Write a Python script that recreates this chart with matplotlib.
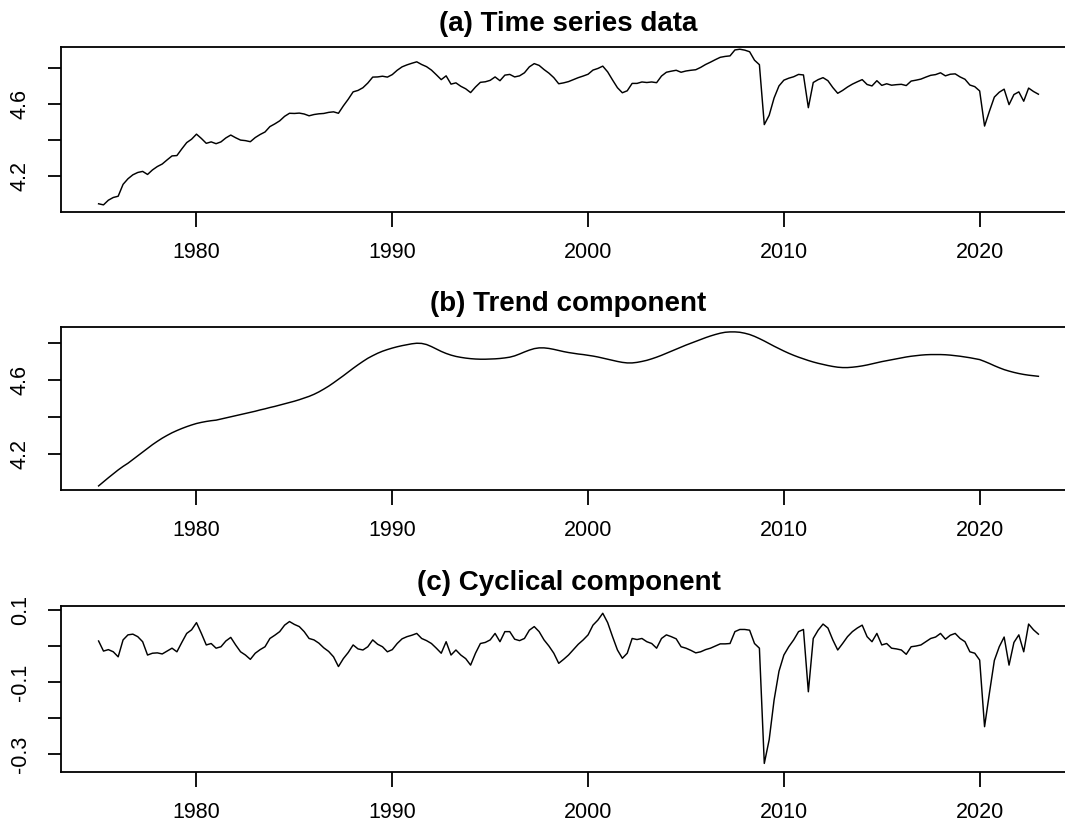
import matplotlib
matplotlib.use("Agg")
import matplotlib.pyplot as plt
import numpy as np

# ---------------- data (quarterly) ----------------
start_year = 1975
freq = 4

trend = [
    4.030, 4.052, 4.074, 4.095,   # 1975
    4.116, 4.135, 4.152, 4.172,   # 1976
    4.192, 4.212, 4.232, 4.252,   # 1977
    4.270, 4.287, 4.302, 4.316,   # 1978
    4.328, 4.339, 4.349, 4.358,   # 1979
    4.366, 4.372, 4.377, 4.381,   # 1980
    4.384, 4.390, 4.396, 4.402,   # 1981
    4.408, 4.414, 4.420, 4.426,   # 1982
    4.432, 4.439, 4.445, 4.452,   # 1983
    4.458, 4.465, 4.472, 4.479,   # 1984
    4.486, 4.494, 4.503, 4.512,   # 1985
    4.523, 4.536, 4.551, 4.567,   # 1986
    4.585, 4.604, 4.623, 4.643,   # 1987
    4.663, 4.682, 4.700, 4.717,   # 1988
    4.731, 4.744, 4.755, 4.764,   # 1989
    4.772, 4.779, 4.785, 4.790,   # 1990
    4.795, 4.798, 4.797, 4.791,   # 1991
    4.780, 4.767, 4.754, 4.743,   # 1992
    4.734, 4.727, 4.722, 4.718,   # 1993
    4.715, 4.713, 4.712, 4.712,   # 1994
    4.713, 4.714, 4.716, 4.719,   # 1995
    4.723, 4.730, 4.740, 4.751,   # 1996
    4.761, 4.769, 4.773, 4.773,   # 1997
    4.770, 4.765, 4.759, 4.753,   # 1998
    4.748, 4.744, 4.740, 4.737,   # 1999
    4.733, 4.729, 4.724, 4.718,   # 2000
    4.712, 4.706, 4.700, 4.695,   # 2001
    4.692, 4.692, 4.695, 4.700,   # 2002
    4.706, 4.714, 4.723, 4.733,   # 2003
    4.744, 4.755, 4.766, 4.777,   # 2004
    4.788, 4.798, 4.808, 4.818,   # 2005
    4.828, 4.837, 4.845, 4.852,   # 2006
    4.857, 4.859, 4.859, 4.857,   # 2007
    4.852, 4.845, 4.835, 4.823,   # 2008
    4.810, 4.796, 4.782, 4.769,   # 2009
    4.756, 4.744, 4.733, 4.723,   # 2010
    4.714, 4.705, 4.697, 4.690,   # 2011
    4.684, 4.678, 4.673, 4.669,   # 2012
    4.667, 4.667, 4.669, 4.672,   # 2013
    4.676, 4.681, 4.687, 4.693,   # 2014
    4.699, 4.704, 4.709, 4.714,   # 2015
    4.719, 4.724, 4.728, 4.731,   # 2016
    4.734, 4.736, 4.737, 4.737,   # 2017
    4.737, 4.736, 4.734, 4.731,   # 2018
    4.728, 4.724, 4.720, 4.715,   # 2019
    4.710, 4.700, 4.689, 4.677,   # 2020
    4.666, 4.656, 4.648, 4.641,   # 2021
    4.635, 4.630, 4.626, 4.623,   # 2022
    4.620,                        # 2023
]

cycle = [
    0.014, -0.014, -0.010, -0.016,   # 1975
    -0.030, 0.017, 0.031, 0.033,     # 1976
    0.026, 0.012, -0.025, -0.020,    # 1977
    -0.019, -0.022, -0.014, -0.006,  # 1978
    -0.016, 0.010, 0.035, 0.045,     # 1979
    0.065, 0.035, 0.003, 0.007,      # 1980
    -0.006, -0.002, 0.014, 0.024,    # 1981
    0.003, -0.016, -0.025, -0.037,   # 1982
    -0.020, -0.010, -0.002, 0.021,   # 1983
    0.030, 0.040, 0.058, 0.068,      # 1984
    0.060, 0.054, 0.040, 0.021,      # 1985
    0.017, 0.008, -0.005, -0.015,    # 1986
    -0.030, -0.057, -0.035, -0.018,  # 1987
    0.003, -0.008, -0.011, -0.002,   # 1988
    0.017, 0.005, -0.002, -0.016,    # 1989
    -0.010, 0.007, 0.020, 0.026,     # 1990
    0.030, 0.035, 0.021, 0.015,      # 1991
    0.007, -0.006, -0.020, 0.012,    # 1992
    -0.025, -0.011, -0.025, -0.035,  # 1993
    -0.053, -0.020, 0.007, 0.010,    # 1994
    0.017, 0.035, 0.012, 0.040,      # 1995
    0.040, 0.019, 0.015, 0.021,      # 1996
    0.044, 0.054, 0.040, 0.017,      # 1997
    0.000, -0.020, -0.048, -0.037,   # 1998
    -0.025, -0.010, 0.005, 0.017,    # 1999
    0.031, 0.058, 0.072, 0.091,      # 2000
    0.065, 0.026, -0.011, -0.034,    # 2001
    -0.020, 0.021, 0.018, 0.021,     # 2002
    0.012, 0.007, -0.006, 0.021,     # 2003
    0.031, 0.026, 0.020, -0.002,     # 2004
    -0.006, -0.012, -0.019, -0.016,  # 2005
    -0.010, -0.006, 0.000, 0.006,    # 2006
    0.006, 0.007, 0.040, 0.046,      # 2007
    0.046, 0.044, 0.007, -0.006,     # 2008
    -0.326, -0.260, -0.150, -0.070,  # 2009
    -0.025, -0.002, 0.017, 0.040,    # 2010
    0.046, -0.127, 0.021, 0.044,     # 2011
    0.061, 0.050, 0.017, -0.011,     # 2012
    0.007, 0.026, 0.040, 0.050,      # 2013
    0.058, 0.026, 0.012, 0.035,      # 2014
    0.003, 0.007, -0.006, -0.008,    # 2015
    -0.011, -0.023, -0.002, 0.000,   # 2016
    0.003, 0.012, 0.021, 0.025,      # 2017
    0.035, 0.019, 0.030, 0.035,      # 2018
    0.021, 0.012, -0.016, -0.020,    # 2019
    -0.039, -0.224, -0.130, -0.040,  # 2020
    -0.002, 0.025, -0.053, 0.010,    # 2021
    0.031, -0.016, 0.061, 0.045,     # 2022
    0.033,                           # 2023
]

titles = ["(a) Time series data", "(b) Trend component", "(c) Cyclical component"]
x_ticks = [1980, 1990, 2000, 2010, 2020]
y_ticks_a = [4.2, 4.4, 4.6, 4.8]
y_labels_a = ["4.2", "", "4.6", ""]
y_ticks_c = [0.1, 0.0, -0.1, -0.2, -0.3]
y_labels_c = ["0.1", "", "-0.1", "", "-0.3"]

# ---------------- plotting ----------------
plt.rcParams['font.family'] = ['Liberation Sans', 'DejaVu Sans']

t = start_year + np.arange(len(trend)) / freq
trend_arr = np.array(trend)
cycle_arr = np.array(cycle)
series = trend_arr + cycle_arr   # HP decomposition: data = trend + cycle

W, H = 1065, 822
fig = plt.figure(figsize=(W / 100, H / 100), dpi=100)
fig.patch.set_facecolor("white")

def px_axes(left, right, top, bottom):
    return [left / W, 1 - bottom / H, (right - left) / W, (bottom - top) / H]

panels = [
    (px_axes(61, 1076, 46.7, 211.7), series, (4.0, 4.917), y_ticks_a, y_labels_a),
    (px_axes(61, 1076, 326.7, 490.0), trend_arr, (4.008, 4.887), y_ticks_a, y_labels_a),
    (px_axes(61, 1076, 605.7, 771.7), cycle_arr, (-0.349, 0.112), y_ticks_c, y_labels_c),
]

for (pos, y, ylim, yt, yl), title in zip(panels, titles):
    ax = fig.add_axes(pos)
    ax.plot(t, y, color="black", lw=1.05)
    ax.set_xlim(1973.08, 2024.92)
    ax.set_ylim(*ylim)
    ax.set_xticks(x_ticks)
    ax.set_xticklabels([str(v) for v in x_ticks], fontsize=15.5)
    ax.set_yticks(yt)
    ax.set_yticklabels(yl, fontsize=15.5, rotation=90, va="center")
    ax.tick_params(axis="x", length=10.5, width=1.3, pad=11.0, direction="out")
    ax.tick_params(axis="y", length=9.6, width=1.3, pad=12, direction="out")
    for s in ax.spines.values():
        s.set_linewidth(1.3)
        s.set_color("black")
    ax.set_title(title, fontsize=20, fontweight="bold", pad=11)

fig.savefig("out.png", dpi=100, facecolor="white")
